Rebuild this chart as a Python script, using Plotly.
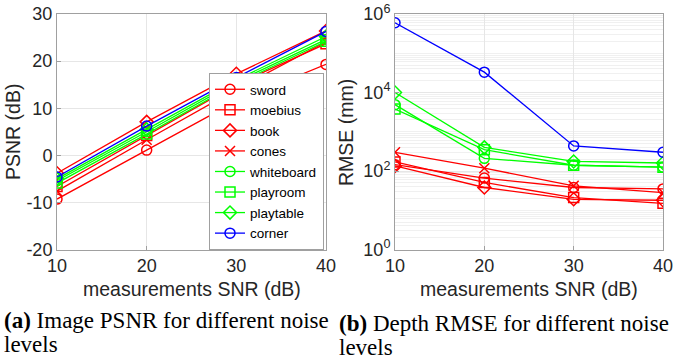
import plotly.graph_objects as go

snr = [10, 20, 30, 40]
names = ["sword", "moebius", "book", "cones", "whiteboard", "playroom", "playtable", "corner"]
colors = ["#ff0000", "#ff0000", "#ff0000", "#ff0000", "#00ff00", "#00ff00", "#00ff00", "#0000ff"]
symbols = ["circle-open", "square-open", "diamond-open", "x-thin-open",
           "circle-open", "square-open", "diamond-open", "circle-open"]

psnr_ticks = [-20, -10, 0, 10, 20, 30]
psnr_ticktext = ["-20", "-10", "0", "10", "20", "30"]
rmse_ticks = [1, 100, 10000, 1000000]
rmse_ticktext = ["10<sup>0</sup>", "10<sup>2</sup>", "10<sup>4</sup>", "10<sup>6</sup>"]

psnr = {
    "sword":      [-9.3, 1.1, 11.5, 19.3],
    "moebius":    [-6.6, 4.2, 15.0, 23.7],
    "book":       [-3.8, 7.1, 17.3, 26.4],
    "cones":      [-7.6, 3.3, 14.0, 24.1],
    "whiteboard": [-5.4, 5.0, 15.6, 24.6],
    "playroom":   [-5.9, 4.5, 15.2, 24.2],
    "playtable":  [-5.0, 5.5, 16.0, 25.2],
    "corner":     [-4.6, 6.2, 16.5, 26.3],
}

rmse = {
    "sword":      [145, 66, 38, 35],
    "moebius":    [170, 51, 21, 15],
    "book":       [135, 38, 19, 18],
    "cones":      [300, 118, 42, 28],
    "whiteboard": [4900, 210, 140, 125],
    "playroom":   [3800, 350, 140, 125],
    "playtable":  [10000, 400, 175, 160],
    "corner":     [600000, 33000, 435, 300],
}

fig = go.Figure()
for n, c, s in zip(names, colors, symbols):
    fig.add_trace(go.Scatter(
        x=snr, y=psnr[n], name=n, mode="lines+markers",
        line=dict(color=c, width=1.3),
        marker=dict(symbol=s, size=10, color=c, line=dict(color=c, width=1.5)),
        xaxis="x", yaxis="y", showlegend=True))
for n, c, s in zip(names, colors, symbols):
    fig.add_trace(go.Scatter(
        x=snr, y=rmse[n], name=n, mode="lines+markers",
        line=dict(color=c, width=1.3),
        marker=dict(symbol=s, size=10, color=c, line=dict(color=c, width=1.5)),
        xaxis="x2", yaxis="y2", showlegend=False))

W, H = 673, 362
top, bot = 14, 249.5
yd = [1 - bot / H, 1 - top / H]
tickfont = dict(family="Liberation Sans, Arial", size=18, color="#262626")
axcommon = dict(showline=True, linecolor="#a0a0a0", linewidth=1, mirror=True,
                ticks="inside", ticklen=4, tickcolor="#a0a0a0",
                showgrid=True, gridcolor="#e6e6e6", gridwidth=1,
                zeroline=False, tickfont=tickfont, automargin=False,
                ticklabeloverflow="allow")

fig.update_layout(
    width=W, height=H,
    margin=dict(l=0, r=0, t=0, b=0),
    paper_bgcolor="white", plot_bgcolor="white",
    xaxis=dict(domain=[57 / W, 326 / W], range=[10, 40], tickvals=snr, anchor="y", **axcommon),
    yaxis=dict(domain=yd, range=[-20, 30], tickvals=psnr_ticks, ticktext=psnr_ticktext,
               anchor="x", **axcommon),
    xaxis2=dict(domain=[395 / W, 663 / W], range=[10, 40], tickvals=snr, anchor="y2", **axcommon),
    yaxis2=dict(domain=yd, type="log", range=[0, 6], tickvals=rmse_ticks, ticktext=rmse_ticktext,
                anchor="x2",
                minor=dict(dtick="D1", showgrid=True, gridcolor="#f0f0f0", ticks=""),
                **axcommon),
    legend=dict(x=324 / W, xanchor="right", y=1 - 250 / H, yanchor="bottom",
                bgcolor="white", bordercolor="#a0a0a0", borderwidth=1,
                font=dict(family="Liberation Sans, Arial", size=13.5, color="#000000"),
                tracegroupgap=0, itemwidth=30),
    showlegend=True,
)

labfont = dict(family="Liberation Sans, Arial", size=19.5, color="#262626")
for xc in [(57 + 326) / 2, (395 + 663) / 2]:
    fig.add_annotation(text="measurements SNR (dB)", xref="paper", yref="paper",
                       x=xc / W, y=1 - 289 / H, showarrow=False, font=labfont,
                       xanchor="center", yanchor="middle")
fig.add_annotation(text="PSNR (dB)", xref="paper", yref="paper", x=13 / W, y=1 - 132 / H,
                   textangle=-90, showarrow=False, font=labfont, xanchor="center", yanchor="middle")
fig.add_annotation(text="RMSE (mm)", xref="paper", yref="paper", x=346 / W, y=1 - 132 / H,
                   textangle=-90, showarrow=False, font=labfont, xanchor="center", yanchor="middle")

capfont = dict(family="Liberation Serif, Times New Roman", size=23, color="#000000")
caps = [
    ("<b>(a)</b> Image PSNR for different noise", 2, 320),
    ("levels", 2, 344),
    ("<b>(b)</b> Depth RMSE for different noise", 337, 323),
    ("levels", 337, 347),
]
for t, x, y in caps:
    fig.add_annotation(text=t, xref="paper", yref="paper", x=x / W, y=1 - y / H,
                       showarrow=False, font=capfont, xanchor="left", yanchor="middle")

fig.write_html("out.html", config={"displayModeBar": False},
               post_script="document.body.style.margin='0';document.body.style.overflow='hidden';")
